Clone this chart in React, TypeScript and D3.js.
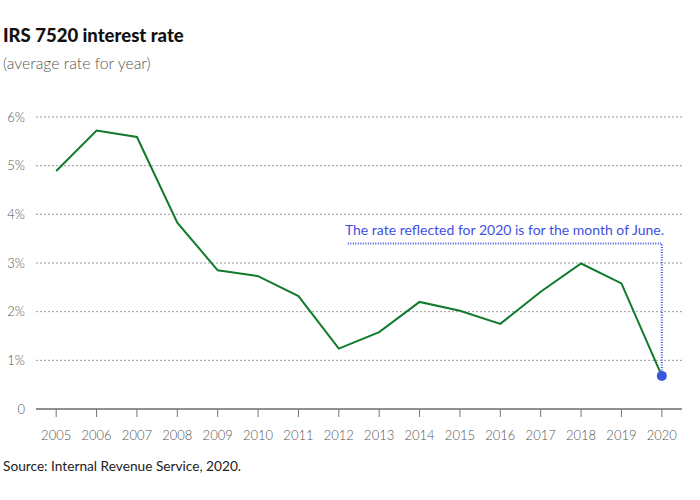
import React from "react";
import * as d3 from "d3";

const years = ["2005","2006","2007","2008","2009","2010","2011","2012","2013","2014","2015","2016","2017","2018","2019","2020"];
const rates = [4.89, 5.72, 5.59, 3.83, 2.85, 2.73, 2.32, 1.24, 1.58, 2.2, 2.02, 1.75, 2.41, 2.99, 2.58, 0.68];
const yTicks = [0, 1, 2, 3, 4, 5, 6];
const title = "IRS 7520 interest rate";
const subtitle = "(average rate for year)";
const note = "The rate reflected for 2020 is for the month of June.";
const source = "Source: Internal Revenue Service, 2020.";

const W = 700, H = 500;
const left = 36, right = 682, top = 117, bottom = 409;
const FONT = "Lato, 'Open Sans', sans-serif";

export default function App() {
  const x = d3.scalePoint<string>().domain(years).range([left, right]).padding(0.5);
  const y = d3.scaleLinear().domain([0, 6]).range([bottom, top]);
  const line = d3.line<number>().x((_, i) => x(years[i])!).y(d => y(d));
  const lastX = x(years[years.length - 1])!;
  const lastY = y(rates[rates.length - 1]);
  const noteY = y(3.4);
  return (
    <svg width={W} height={H} style={{ position: "absolute", left: 0, top: 0, fontFamily: FONT }}>
      <rect width={W} height={H} fill="#fff" />
      <text x={3} y={42} fontSize={18.5} fontWeight={900} fill="#111">{title}</text>
      <text x={3} y={69} fontSize={15.8} fill="#555" fontWeight={300}>{subtitle}</text>
      {yTicks.map(t => (
        <g key={t}>
          {t > 0 && <line x1={left} x2={right} y1={y(t)} y2={y(t)} stroke="#999" strokeDasharray="2,2" strokeWidth={1} />}
          <text x={25} y={y(t) + 4.5} textAnchor="end" fontSize={13} fill="#555" fontWeight={300}>{t === 0 ? "0" : `${t}%`}</text>
        </g>
      ))}
      <line x1={left} x2={right} y1={bottom} y2={bottom} stroke="#222" strokeWidth={1} />
      {years.map(yr => (
        <g key={yr}>
          <line x1={x(yr)} x2={x(yr)} y1={bottom} y2={bottom + 8} stroke="#777" strokeWidth={1} />
          <text x={x(yr)} y={bottom + 31} textAnchor="middle" fontSize={13} fill="#555" fontWeight={300}>{yr}</text>
        </g>
      ))}
      <path d={line(rates) || ""} fill="none" stroke="#117a2c" strokeWidth={2} />
      <path d={`M${x("2012")! + 9},${noteY}H${lastX}V${lastY}`} fill="none" stroke="#3f52de" strokeWidth={2} strokeDasharray="1,1.5" />
      <circle cx={lastX} cy={lastY} r={5} fill="#3a56dc" />
      <text x={664} y={noteY - 9} textAnchor="end" fontSize={14} fill="#3f4fe0">{note}</text>
      <text x={3} y={471} fontSize={13.7} fill="#222">{source}</text>
    </svg>
  );
}
